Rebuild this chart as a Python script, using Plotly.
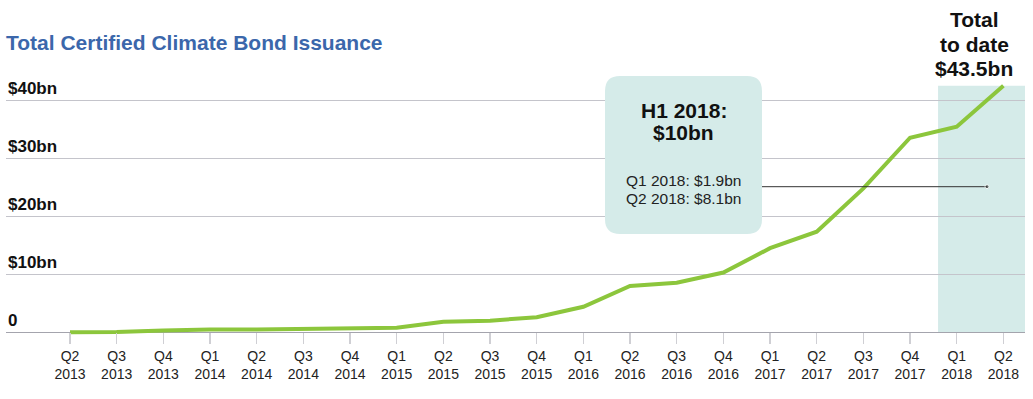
import plotly.graph_objects as go

# ---------------- data ----------------
quarters = ["Q2", "Q3", "Q4", "Q1", "Q2", "Q3", "Q4", "Q1", "Q2", "Q3", "Q4",
            "Q1", "Q2", "Q3", "Q4", "Q1", "Q2", "Q3", "Q4", "Q1", "Q2"]
years = ["2013", "2013", "2013", "2014", "2014", "2014", "2014", "2015", "2015", "2015", "2015",
         "2016", "2016", "2016", "2016", "2017", "2017", "2017", "2017", "2018", "2018"]
cumulative_bn = [0.0, 0.05, 0.3, 0.5, 0.5, 0.55, 0.7, 0.8, 1.8, 2.0, 2.6,
                 4.4, 8.0, 8.55, 10.3, 14.5, 17.35, 24.8, 33.55, 35.45, 42.5]
y_tick_vals = [0, 10, 20, 30, 40]
y_tick_text = ["0", "$10bn", "$20bn", "$30bn", "$40bn"]

title_text = "Total Certified Climate Bond Issuance"
box_head = ["H1 2018:", "$10bn"]
box_body = ["Q1 2018: $1.9bn", "Q2 2018: $8.1bn"]
total_lines = ["Total", "to date", "$43.5bn"]

# ---------------- layout helpers ----------------
W, H = 1033, 399
ML, MR, MT, MB = 6, 8, 66, 61
XR = [-1.3714, 20.463]
YR = [-0.983, 45.91]
PW = W - ML - MR
PH = H - MT - MB


def px2x(px):
    return XR[0] + (px - ML) / PW * (XR[1] - XR[0])


def py2y(py):
    return YR[1] - (py - MT) / PH * (YR[1] - YR[0])


def px2paper(px):
    return (px - ML) / PW


def py2paper(py):
    return 1 - (py - MT) / PH


GREEN = "#8cc63c"
TEAL = "#d5ebe9"
BLUE = "#3b67ab"
FONT = "Liberation Sans"

x_idx = list(range(len(quarters)))
tick_labels = [f"{q}<br>{y}" for q, y in zip(quarters, years)]

fig = go.Figure()

# highlight band for 2018
fig.add_shape(type="rect", xref="x", yref="y",
              x0=x_idx[-2] - 0.4, x1=XR[1], y0=0, y1=cumulative_bn[-1],
              fillcolor=TEAL, line_width=0, layer="below")

# rounded annotation box
bx0, bx1 = px2x(605), px2x(762)
by0, by1 = py2y(234), py2y(76)
rx = 15 / PW * (XR[1] - XR[0])
ry = 15 / PH * (YR[1] - YR[0])
path = (f"M {bx0 + rx} {by1} L {bx1 - rx} {by1} Q {bx1} {by1} {bx1} {by1 - ry} "
        f"L {bx1} {by0 + ry} Q {bx1} {by0} {bx1 - rx} {by0} "
        f"L {bx0 + rx} {by0} Q {bx0} {by0} {bx0} {by0 + ry} "
        f"L {bx0} {by1 - ry} Q {bx0} {by1} {bx0 + rx} {by1} Z")
fig.add_shape(type="path", path=path, xref="x", yref="y",
              fillcolor=TEAL, line_width=0, layer="above")

# main line
fig.add_trace(go.Scatter(x=x_idx, y=cumulative_bn, mode="lines",
                         line=dict(color=GREEN, width=4),
                         hoverinfo="skip", showlegend=False))

# pointer line from box
ly = py2y(186.7)
fig.add_trace(go.Scatter(x=[bx1, px2x(987)], y=[ly, ly], mode="lines+markers",
                         line=dict(color="#333333", width=1),
                         marker=dict(size=[0, 4], color="#333333"),
                         hoverinfo="skip", showlegend=False))

# y-axis labels above gridlines
for v, t in zip(y_tick_vals, y_tick_text):
    fig.add_annotation(x=0, xref="paper", y=v, yref="y", text=f"<b>{t}</b>",
                       xanchor="left", yanchor="bottom", yshift=0, showarrow=False,
                       font=dict(family=FONT, size=17, color="#111111"))

# box text
cx = px2x(683.5)
for t, py in zip(box_head, [110, 132]):
    fig.add_annotation(x=cx, y=py2y(py), text=f"<b>{t}</b>", showarrow=False,
                       xanchor="center", yanchor="middle",
                       font=dict(family=FONT, size=21, color="#111111"))
for t, py in zip(box_body, [180, 198]):
    fig.add_annotation(x=cx, y=py2y(py), text=t, showarrow=False,
                       xanchor="center", yanchor="middle",
                       font=dict(family=FONT, size=15.5, color="#222222"))

# total to date text (paper refs so it can sit above the plot area)
tx = px2paper(974)
for t, py in zip(total_lines, [20, 44, 68]):
    fig.add_annotation(x=tx, xref="paper", y=py2paper(py), yref="paper",
                       text=f"<b>{t}</b>", showarrow=False,
                       xanchor="center", yanchor="middle",
                       font=dict(family=FONT, size=21, color="#111111"))

fig.update_layout(
    width=W, height=H,
    margin=dict(l=ML, r=MR, t=MT, b=MB),
    paper_bgcolor="white", plot_bgcolor="white",
    hovermode=False,
    title=dict(text=f"<b>{title_text}</b>", x=6 / W, xanchor="left",
               y=1 - 43 / H, yanchor="middle",
               font=dict(family=FONT, size=21, color=BLUE)),
    xaxis=dict(range=XR, tickmode="array", tickvals=x_idx, ticktext=tick_labels,
               showgrid=False, zeroline=False, showline=False,
               ticks="outside", ticklen=11, tickwidth=1.5, tickcolor="#cfcfd4",
               anchor="free", position=(0 - YR[0]) / (YR[1] - YR[0]),
               tickfont=dict(family=FONT, size=14, color="#222222")),
    yaxis=dict(range=YR, tickmode="array", tickvals=y_tick_vals[1:],
               showticklabels=False, showgrid=True, gridcolor="#c4c4cb", gridwidth=1,
               zeroline=True, zerolinecolor="#a4a4ad", zerolinewidth=1.2,
               showline=False),
)

fig.write_html("out.html", config={"displayModeBar": False, "staticPlot": True},
               post_script="document.body.style.margin='0';document.body.style.overflow='hidden';")
